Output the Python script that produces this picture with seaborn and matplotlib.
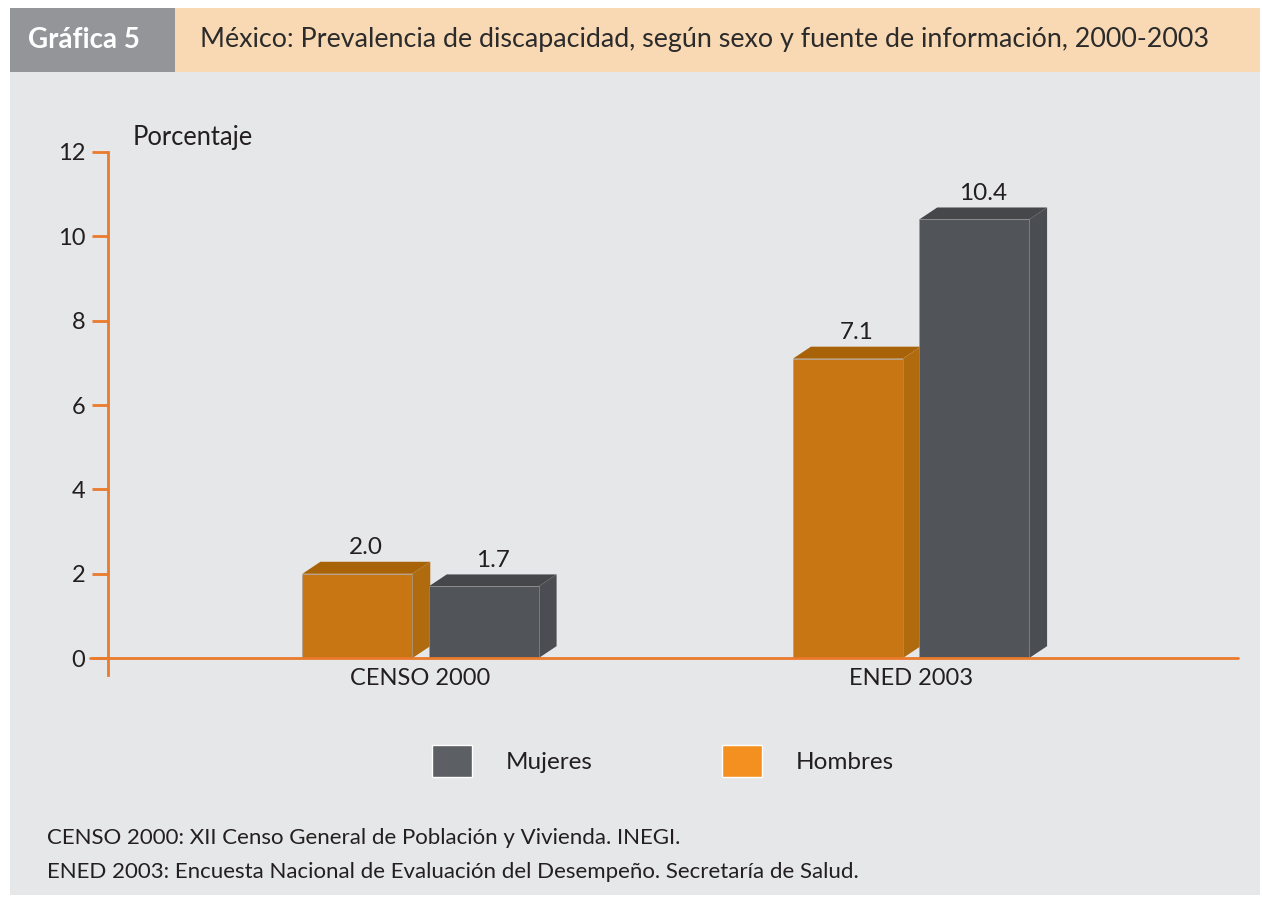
import numpy as np
import pandas as pd
import matplotlib
matplotlib.use('Agg')
import matplotlib.pyplot as plt
from matplotlib.patches import Rectangle, Polygon, Patch
import seaborn as sns

# datos
fuentes = ['CENSO 2000', 'ENED 2003']
hombres = [2.0, 7.1]
mujeres = [1.7, 10.4]
yticks = [0, 2, 4, 6, 8, 10, 12]

titulo = 'México: Prevalencia de discapacidad, según sexo y fuente de información, 2000-2003'
etiqueta = 'Gráfica 5'
notas = ['CENSO 2000: XII Censo General de Población y Vivienda. INEGI.',
         'ENED 2003: Encuesta Nacional de Evaluación del Desempeño. Secretaría de Salud.']

# colores
naranja = '#c87514'
naranja_top = '#a86308'
naranja_lado = '#b06b0f'
gris = '#515459'
gris_top = '#45474b'
gris_lado = '#4a4d51'
eje = '#ea7a2c'
fondo = '#e6e7e8'
texto = '#231f20'

df = pd.DataFrame({'fuente': fuentes * 2,
                   'sexo': ['Hombres'] * 2 + ['Mujeres'] * 2,
                   'valor': hombres + mujeres})

sns.set_theme(style='white')
plt.rcParams['font.family'] = ['Lato', 'DejaVu Sans']

W, H = 1262, 898
fig = plt.figure(figsize=(W / 100, H / 100), dpi=100)
fig.patch.set_facecolor('white')


def caja(x0, y0, x1, y1, color):
    fig.add_artist(Rectangle((x0 / W, 1 - y1 / H), (x1 - x0) / W, (y1 - y0) / H,
                             transform=fig.transFigure, facecolor=color,
                             edgecolor='none', zorder=-10))


caja(10, 72, 1260, 895, fondo)
caja(10, 8, 175, 72, '#939598')
caja(175, 8, 1260, 72, '#f9d9b3')

fig.text(28 / W, 1 - 40 / H, etiqueta, fontsize=20, fontweight='bold',
         color='white', va='center')
fig.text(200 / W, 1 - 40 / H, titulo, fontsize=19.4, color='#2b2b2b', va='center')

ax = fig.add_axes([108 / W, 1 - 675 / H, (1238 - 108) / W, (675 - 152) / H])
ax.set_facecolor('none')

sns.barplot(data=df, x='fuente', y='valor', hue='sexo', hue_order=['Hombres', 'Mujeres'],
            palette=[naranja, gris], saturation=1, width=0.515, gap=0.13, legend=False, ax=ax,
            edgecolor='#9a9a9a', linewidth=0.4)

ax.set_xlim((108 - 420.5) / 490.5, 1 + (1238 - 911) / 490.5)
ax.set_ylim(-0.4, 12)
ax.set_yticks(yticks)
ax.set_xlabel('')
ax.set_ylabel('')

for s in ['top', 'right', 'bottom']:
    ax.spines[s].set_visible(False)
ax.spines['left'].set_color(eje)
ax.spines['left'].set_linewidth(2)
ax.axhline(0, color=eje, lw=2, xmin=-(108 - 90) / (1238 - 108), clip_on=False, zorder=3)

ax.tick_params(axis='y', direction='out', length=11.5, width=2, color=eje,
               labelsize=17, labelcolor=texto, pad=5, left=True)
ax.tick_params(axis='x', length=0, pad=-5, labelsize=17, labelcolor=texto)

# caras 3D
dx, dy = 18, 12
inv = ax.transData.inverted()
for cont, (c_top, c_lado) in zip(ax.containers, [(naranja_top, naranja_lado), (gris_top, gris_lado)]):
    for bar in cont:
        x0 = bar.get_x()
        w = bar.get_width()
        h = bar.get_height()
        a = ax.transData.transform((x0, h))
        b = ax.transData.transform((x0 + w, h))
        c = ax.transData.transform((x0 + w, 0))
        top = [a, b, b + [dx, dy], a + [dx, dy]]
        lado = [c, b, b + [dx, dy], c + [dx, dy]]
        ax.add_patch(Polygon(inv.transform(top), closed=True, facecolor=c_top,
                             edgecolor='none', zorder=0.9, clip_on=False))
        ax.add_patch(Polygon(inv.transform(lado), closed=True, facecolor=c_lado,
                             edgecolor='none', zorder=0.9, clip_on=False))
        ax.annotate(f'{h:.1f}', (x0 + w / 2, h), xytext=(dx / 2 * 0.72, (dy + 14) * 0.72),
                    textcoords='offset points', ha='center', va='center',
                    fontsize=17.5, color=texto)

fig.text(133 / W, 1 - 137 / H, 'Porcentaje', ha='left', va='center', fontsize=18.4, color=texto)

handles = [Patch(facecolor='#5c5f63'), Patch(facecolor='#f39020')]
fig.legend(handles, ['Mujeres', 'Hombres'], loc='center', bbox_to_anchor=(663 / W, 1 - 761 / H),
           ncol=2, frameon=False, fontsize=17.5, handlelength=1.65, handleheight=1.65,
           handletextpad=1.4, columnspacing=5.3, labelcolor=texto)

fig.text(47 / W, 1 - 838 / H, notas[0], fontsize=16, va='center', color=texto)
fig.text(47 / W, 1 - 872 / H, notas[1], fontsize=16, va='center', color=texto)

fig.savefig('out.png', dpi=100)
